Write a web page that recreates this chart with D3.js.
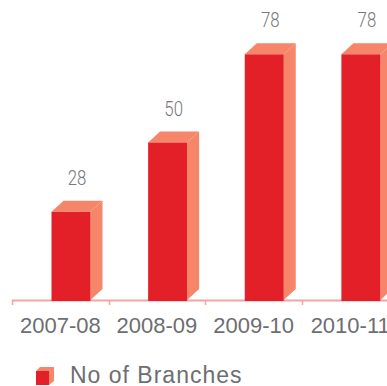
<!DOCTYPE html>
<html>
<head>
<meta charset="utf-8">
<script src="https://cdn.jsdelivr.net/npm/d3@7"></script>
<style>
  html, body { margin: 0; padding: 0; background: #fff; }
  svg { display: block; }
</style>
</head>
<body>
<svg id="chart" width="387" height="386"></svg>
<script>
const categories = ["2007-08", "2008-09", "2009-10", "2010-11"];
const branches = [28, 50, 78, 78];
const seriesName = "No of Branches";

const frontColor = "#E32028";
const sideColor = "#F5866A";
const textColor = "#6D6E71";
const axisColor = "#F4A3A3";

const svg = d3.select("#chart");
const baseY = 300;
const depthX = 12, depthY = 11;
const barOffset = 39.5, barW = 39;

const x = d3.scaleBand().domain(categories).range([12, 398.5]).paddingInner(0).paddingOuter(0);
const y = d3.scaleLinear().domain([0, 100]).range([baseY, baseY - 315]);

// axis line
svg.append("line")
  .attr("x1", 12).attr("x2", 387)
  .attr("y1", baseY + 0.5).attr("y2", baseY + 0.5)
  .attr("stroke", axisColor).attr("stroke-width", 2);
// ticks
svg.selectAll("line.tick").data(categories).enter().append("line")
  .attr("class", "tick")
  .attr("x1", d => Math.round(x(d)) + 0.5).attr("x2", d => Math.round(x(d)) + 0.5)
  .attr("y1", baseY).attr("y2", baseY + 5)
  .attr("stroke", axisColor).attr("stroke-width", 1.5);

const bars = svg.selectAll("g.bar").data(categories.map((c, i) => ({c, v: branches[i]})))
  .enter().append("g").attr("class", "bar");

// side face
bars.append("path")
  .attr("fill", sideColor)
  .attr("d", d => {
    const x1 = x(d.c) + barOffset + barW;
    const top = y(d.v);
    return `M${x1},${top} L${x1 + depthX},${top - depthY} L${x1 + depthX},${baseY - depthY} L${x1},${baseY} Z`;
  });
// top face
bars.append("path")
  .attr("fill", sideColor)
  .attr("d", d => {
    const x0 = x(d.c) + barOffset;
    const top = y(d.v);
    return `M${x0},${top} L${x0 + depthX},${top - depthY} L${x0 + barW + depthX},${top - depthY} L${x0 + barW},${top} Z`;
  });
// front face
bars.append("rect")
  .attr("fill", frontColor)
  .attr("x", d => x(d.c) + barOffset)
  .attr("y", d => y(d.v))
  .attr("width", barW)
  .attr("height", d => baseY + 1 - y(d.v));

// value labels
bars.append("text")
  .attr("transform", d => `translate(${x(d.c) + barOffset + (barW + depthX) / 2},${y(d.v) - 27}) scale(0.8,1)`)
  .attr("text-anchor", "middle")
  .attr("font-family", "Roboto, 'Liberation Sans', sans-serif")
  .attr("font-weight", 300)
  .attr("font-size", 21)
  .attr("fill", "#76777A")
  .text(d => d.v);

// category labels
svg.selectAll("text.cat").data(categories).enter().append("text")
  .attr("class", "cat")
  .attr("x", d => x(d) + x.bandwidth() / 2)
  .attr("y", 333)
  .attr("text-anchor", "middle")
  .attr("font-family", "'Liberation Sans', Arial, sans-serif")
  .attr("font-size", 22)
  .attr("fill", textColor)
  .text(d => d);

// legend
const lg = svg.append("g").attr("transform", "translate(36,385)");
lg.append("path").attr("fill", sideColor)
  .attr("d", "M0,-14 L4,-18 L18,-18 L18,-4 L13,0 L13,-14 Z");
lg.append("rect").attr("fill", frontColor).attr("x", 0).attr("y", -14).attr("width", 13).attr("height", 14);
svg.append("text")
  .attr("x", 70).attr("y", 383)
  .attr("font-family", "'Liberation Sans', Arial, sans-serif")
  .attr("font-size", 23)
  .attr("letter-spacing", 1)
  .attr("fill", textColor)
  .text(seriesName);
</script>
</body>
</html>
